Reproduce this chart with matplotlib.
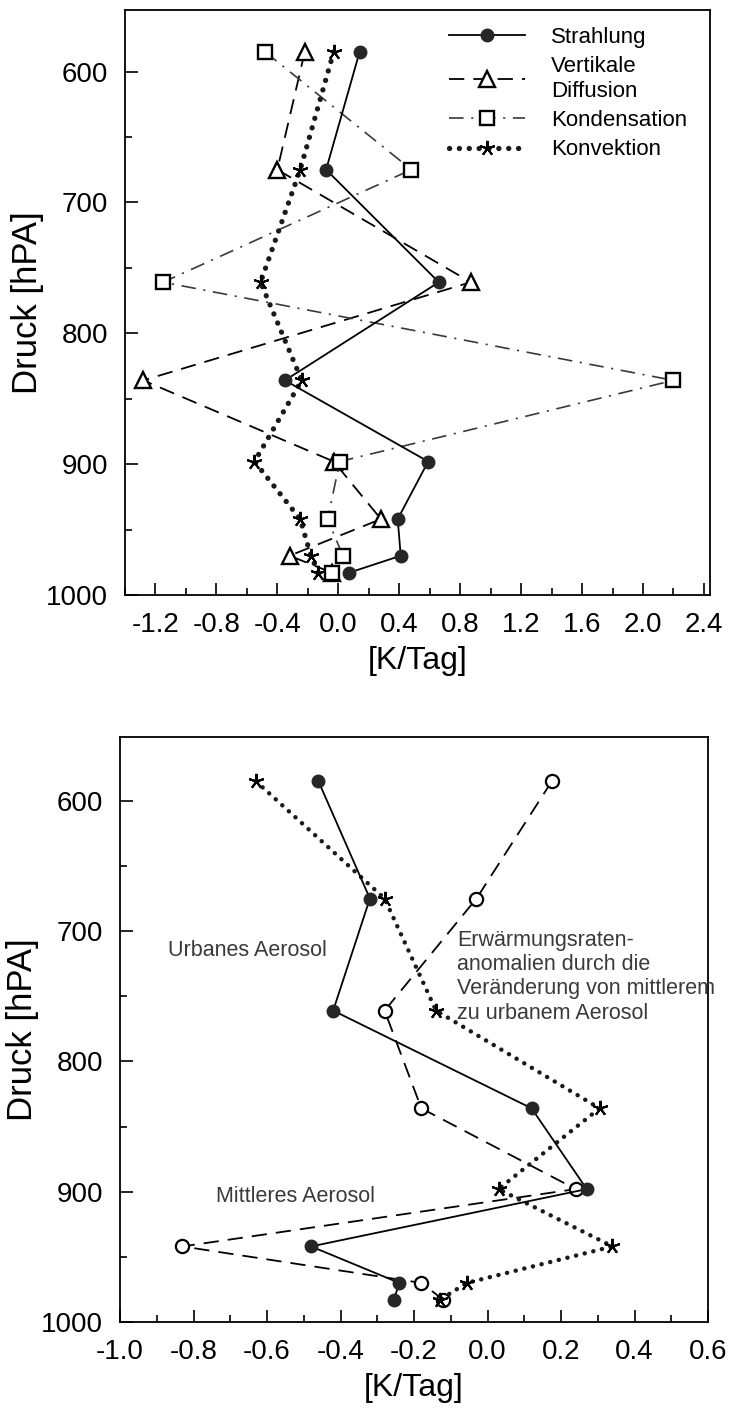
import matplotlib
matplotlib.use("Agg")
import matplotlib.pyplot as plt
from matplotlib.ticker import MultipleLocator

plt.rcParams["font.family"] = ["Liberation Sans", "DejaVu Sans"]
plt.rcParams["axes.unicode_minus"] = False
plt.rcParams["lines.scale_dashes"] = False

# Pressure levels [hPa] shared by both panels
levels = [585, 675, 761, 836, 898, 942, 970, 983]

# Upper panel: heating-rate terms [K/Tag]
strahlung = [0.14, -0.08, 0.66, -0.35, 0.59, 0.39, 0.41, 0.07]
diffusion = [-0.22, -0.40, 0.87, -1.28, -0.03, 0.28, -0.32, -0.04]
kondensation = [-0.48, 0.48, -1.15, 2.20, 0.01, -0.07, 0.03, -0.04]
konvektion = [-0.03, -0.25, -0.51, -0.24, -0.55, -0.25, -0.18, -0.13]

# Lower panel: anomalies urban vs. average aerosol [K/Tag]
strahlung_b = [-0.46, -0.32, -0.42, 0.12, 0.27, -0.48, -0.24, -0.255]
anomalie_b = [0.175, -0.03, -0.28, -0.18, 0.24, -0.83, -0.18, -0.12]
konvektion_b = [-0.63, -0.28, -0.14, 0.305, 0.03, 0.34, -0.056, -0.13]

top_xticks = [-1.2, -0.8, -0.4, 0.0, 0.4, 0.8, 1.2, 1.6, 2.0, 2.4]
bot_xticks = [-1.0, -0.8, -0.6, -0.4, -0.2, 0.0, 0.2, 0.4, 0.6]
yticks = [600, 700, 800, 900, 1000]

W, H = 732, 1418
fig = plt.figure(figsize=(W / 100, H / 100), dpi=100)
ax1 = fig.add_axes([125 / W, 1 - 595 / H, 585 / W, 585 / H])
ax2 = fig.add_axes([120 / W, 1 - 1322 / H, 588 / W, 585 / H])

star = (5, 2, 0)
dashed = (0, (11, 6.5))
dashdot = (0, (10.5, 5.5, 1.5, 5.5))

# ---- upper panel ----
ax1.plot(strahlung, levels, color="black", lw=1.3, marker="o", ms=9,
         mfc="#262626", mec="#262626", label="Strahlung", zorder=4)
ax1.plot(diffusion, levels, color="black", lw=1.3, ls=dashed, marker="^", ms=11,
         mfc="white", mec="black", mew=1.7, label="Vertikale\nDiffusion", zorder=3)
ax1.plot(kondensation, levels, color="#3a3a3a", lw=1.2, ls=dashdot, marker="s", ms=10,
         mfc="white", mec="black", mew=1.7, label="Kondensation", zorder=3)
ax1.plot(konvektion, levels, color="#1a1a1a", lw=3.8, ls=(0, (0.1, 7.0)),
         dash_capstyle="round", marker=star, ms=11, mew=1.5, mec="black",
         label="Konvektion", zorder=3)

ax1.set_xlim(-1.40, 2.44)
ax1.set_ylim(1000, 553)
ax1.set_xticks(top_xticks)
ax1.set_xticklabels([f"{t:.1f}" for t in top_xticks])
ax1.xaxis.set_minor_locator(MultipleLocator(0.2))

ax1.legend(loc="upper left", bbox_to_anchor=(0.535, 0.99), frameon=False,
           fontsize=16, handlelength=3.4, handletextpad=1.2, borderpad=0,
           labelspacing=0.38, numpoints=1)

# ---- lower panel ----
ax2.plot(strahlung_b, levels, color="black", lw=1.3, marker="o", ms=9,
         mfc="#262626", mec="#262626", zorder=4)
ax2.plot(anomalie_b, levels, color="black", lw=1.3, ls=dashed, marker="o", ms=9.5,
         mfc="white", mec="black", mew=1.6, zorder=3)
ax2.plot(konvektion_b, levels, color="#1a1a1a", lw=3.2, ls=(0, (0.1, 6.3)),
         dash_capstyle="round", marker=star, ms=11, mew=1.5, mec="black", zorder=3)

ax2.set_xlim(-1.0, 0.6)
ax2.set_ylim(1000, 551)
ax2.set_xticks(bot_xticks)
ax2.set_xticklabels([f"{t:.1f}" for t in bot_xticks])
ax2.xaxis.set_minor_locator(MultipleLocator(0.1))

note_kw = dict(fontsize=15.5, color="#3a3a3a", va="center")
ax2.text(-0.87, 715, "Urbanes Aerosol", **note_kw)
ax2.text(-0.74, 904, "Mittleres Aerosol", **note_kw)
ax2.text(-0.082, 735,
         "Erwärmungsraten-\nanomalien durch die\nVeränderung von mittlerem\nzu urbanem Aerosol",
         linespacing=1.2, **note_kw)

for ax in (ax1, ax2):
    ax.set_yticks(yticks)
    ax.yaxis.set_minor_locator(MultipleLocator(50))
    ax.tick_params(which="both", direction="in", top=False, right=False,
                   labelsize=20, pad=12, width=1.2)
    ax.tick_params(which="major", length=9)
    ax.tick_params(which="minor", length=5)
    for sp in ax.spines.values():
        sp.set_linewidth(1.3)
    ax.set_ylabel("Druck [hPA]", fontsize=25, labelpad=2)
    ax.set_xlabel("[K/Tag]", fontsize=23, labelpad=6)

fig.savefig("out.png", dpi=100)
